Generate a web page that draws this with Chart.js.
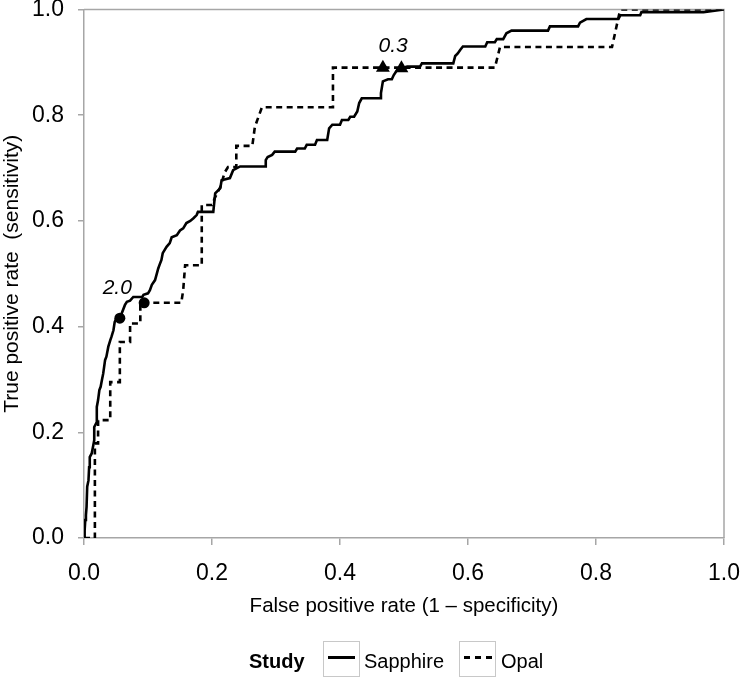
<!DOCTYPE html>
<html><head><meta charset="utf-8">
<script src="https://cdn.jsdelivr.net/npm/chart.js@4.4.1/dist/chart.umd.min.js"></script>
<style>
html,body{margin:0;padding:0;background:#fff;}
#wrap{position:relative;width:740px;height:679px;overflow:hidden;}
#c{position:absolute;left:0;top:0;}
.leg{position:absolute;font-family:"Liberation Sans",Arial,sans-serif;font-size:20px;color:#000;line-height:20px;white-space:nowrap;}
.box{position:absolute;border:1px solid #c8c8c8;width:37px;height:36px;box-sizing:border-box;background:#fff;}
.solid{position:absolute;left:4px;right:4px;top:14px;height:3px;background:#000;}
.dash{position:absolute;left:4px;right:3px;top:14px;height:3px;background:repeating-linear-gradient(90deg,#000 0 6px,transparent 6px 11px);}
</style></head>
<body>
<div id="wrap">
<canvas id="c" width="740" height="679"></canvas>
<div class="leg" style="left:249px;top:651px;font-weight:bold">Study</div>
<div class="box" style="left:323px;top:641px;"><div class="solid"></div></div>
<div class="leg" style="left:364px;top:651px;">Sapphire</div>
<div class="box" style="left:459px;top:641px;"><div class="dash"></div></div>
<div class="leg" style="left:501px;top:651px;">Opal</div>
</div>
<script>
// ---- data ----
const sapphireFPR = [0.000,0.001,0.002,0.003,0.004,0.005,0.007,0.008,0.009,0.012,
  0.014,0.016,0.016,0.019,0.020,0.022,0.024,0.026,0.028,0.030,
  0.033,0.035,0.038,0.041,0.043,0.046,0.048,0.051,0.056,0.064,
  0.067,0.072,0.077,0.091,0.093,0.100,0.103,0.106,0.111,0.114,
  0.116,0.119,0.121,0.123,0.129,0.134,0.137,0.145,0.150,0.155,
  0.160,0.166,0.171,0.176,0.178,0.202,0.205,0.213,0.215,0.228,
  0.233,0.244,0.283,0.284,0.287,0.294,0.298,0.330,0.333,0.345,
  0.348,0.361,0.364,0.380,0.383,0.388,0.400,0.403,0.413,0.416,
  0.422,0.427,0.430,0.434,0.463,0.464,0.467,0.475,0.481,0.484,
  0.489,0.496,0.505,0.525,0.528,0.577,0.580,0.584,0.588,0.592,
  0.627,0.630,0.642,0.645,0.655,0.660,0.668,0.725,0.728,0.772,
  0.775,0.785,0.835,0.838,0.869,0.871,0.968,1.000];
const sapphireTPR = [0.000,0.015,0.034,0.043,0.059,0.097,0.109,0.134,0.153,0.160,
  0.172,0.185,0.210,0.217,0.248,0.261,0.280,0.286,0.299,0.311,
  0.337,0.343,0.362,0.374,0.381,0.393,0.409,0.416,0.416,0.441,
  0.447,0.449,0.456,0.456,0.460,0.463,0.469,0.479,0.488,0.501,
  0.510,0.520,0.526,0.539,0.551,0.558,0.569,0.573,0.582,0.586,
  0.596,0.600,0.605,0.611,0.617,0.617,0.652,0.662,0.677,0.681,
  0.696,0.703,0.703,0.715,0.721,0.725,0.731,0.731,0.737,0.737,
  0.744,0.744,0.753,0.753,0.775,0.782,0.782,0.791,0.791,0.797,
  0.797,0.807,0.823,0.832,0.832,0.842,0.864,0.868,0.868,0.876,
  0.885,0.889,0.892,0.892,0.898,0.898,0.912,0.917,0.924,0.930,
  0.930,0.938,0.938,0.944,0.944,0.955,0.960,0.960,0.968,0.968,
  0.975,0.982,0.982,0.989,0.989,0.995,0.995,1.000];
const opalFPR = [0.000,0.017,0.017,0.022,0.022,0.041,0.041,0.056,0.056,0.072,
  0.072,0.088,0.088,0.094,0.152,0.155,0.158,0.184,0.184,0.200,
  0.205,0.213,0.220,0.225,0.238,0.238,0.263,0.267,0.278,0.389,
  0.389,0.467,0.642,0.650,0.825,0.836,0.839,1.000];
const opalTPR = [0.000,0.000,0.179,0.179,0.223,0.223,0.295,0.295,0.371,0.371,
  0.406,0.406,0.445,0.445,0.445,0.469,0.516,0.516,0.630,0.630,
  0.645,0.664,0.692,0.702,0.702,0.742,0.742,0.778,0.815,0.815,
  0.890,0.890,0.890,0.929,0.929,0.990,1.000,1.000];
// threshold markers: [Sapphire, Opal]
const dotFPR = [0.056, 0.094];      // threshold 2.0
const dotTPR = [0.416, 0.445];
const triFPR = [0.496, 0.467];      // threshold 0.3
const triTPR = [0.889, 0.890];
const thresholdLabels = ['2.0', '0.3'];
const thresholdLabelFPR = [0.052, 0.483];
const thresholdLabelTPR = [0.472, 0.930];
const tickValues = [0, 0.2, 0.4, 0.6, 0.8, 1.0];
const seriesNames = ['Sapphire', 'Opal'];

const pts = (xs, ys) => xs.map((x, i) => ({x: x, y: ys[i]}));
const FONT = '"Liberation Sans", Arial, sans-serif';
const AX = '#a6a6a6';

const frame = {
  id: 'frame',
  beforeDatasetsDraw(chart) {
    const a = chart.chartArea, ctx = chart.ctx;
    ctx.save();
    ctx.strokeStyle = AX; ctx.lineWidth = 1.5;
    ctx.beginPath();
    ctx.moveTo(a.left, a.top); ctx.lineTo(a.right, a.top); ctx.lineTo(a.right, a.bottom);
    ctx.stroke();
    ctx.restore();
  },
  afterDatasetsDraw(chart) {
    const ctx = chart.ctx, xs = chart.scales.x, ys = chart.scales.y;
    ctx.save();
    ctx.font = 'italic 21px ' + FONT;
    ctx.fillStyle = '#000'; ctx.textAlign = 'center'; ctx.textBaseline = 'middle';
    thresholdLabels.forEach((t, i) => {
      ctx.fillText(t, xs.getPixelForValue(thresholdLabelFPR[i]), ys.getPixelForValue(thresholdLabelTPR[i]));
    });
    ctx.restore();
  }
};

new Chart(document.getElementById('c'), {
  type: 'scatter',
  data: {
    datasets: [
      {label: seriesNames[0], data: pts(sapphireFPR, sapphireTPR), showLine: true, borderColor: '#000', borderWidth: 2.6, pointRadius: 0, tension: 0},
      {label: seriesNames[1], data: pts(opalFPR, opalTPR), showLine: true, borderColor: '#000', borderWidth: 2.6, borderDash: [6, 4.5], pointRadius: 0, tension: 0},
      {label: 'dots', data: pts(dotFPR, dotTPR), pointStyle: 'circle', pointRadius: 5.5, backgroundColor: '#000', borderColor: '#000', borderWidth: 0},
      {label: 'tri', data: pts(triFPR, triTPR), pointStyle: 'triangle', pointRadius: 8, backgroundColor: '#000', borderColor: '#000', borderWidth: 0}
    ]
  },
  options: {
    responsive: false,
    animation: false,
    events: [],
    layout: {padding: {left: 0, right: 16, top: 9.5, bottom: 57}},
    plugins: {legend: {display: false}, tooltip: {enabled: false}},
    scales: {
      x: {
        type: 'linear', min: 0, max: 1,
        afterBuildTicks: s => { s.ticks = tickValues.map(v => ({value: v})); },
        afterFit: s => { s.height = 84; s.paddingLeft = 0; s.paddingRight = 0; },
        ticks: {callback: v => v.toFixed(1), color: '#000', font: {family: FONT, size: 23}, padding: 15, maxRotation: 0},
        grid: {drawOnChartArea: false, drawTicks: true, tickLength: 7, color: AX, lineWidth: 1.5},
        border: {display: true, color: AX, width: 1.5},
        title: {display: true, text: 'False positive rate (1 – specificity)', color: '#000', font: {family: FONT, size: 20.5}, padding: {top: 0, bottom: 3}}
      },
      y: {
        type: 'linear', min: 0, max: 1,
        afterBuildTicks: s => { s.ticks = tickValues.map(v => ({value: v})); },
        afterFit: s => { s.width = 84; s.paddingTop = 0; s.paddingBottom = 0; },
        ticks: {callback: v => v.toFixed(1), color: '#000', font: {family: FONT, size: 23}, padding: 14},
        grid: {drawOnChartArea: false, drawTicks: true, tickLength: 6, color: AX, lineWidth: 1.5},
        border: {display: true, color: AX, width: 1.5},
        title: {display: true, text: 'True positive rate  (sensitivity)', color: '#000', font: {family: FONT, size: 21}, padding: {top: 0, bottom: 0}}
      }
    }
  },
  plugins: [frame]
});
</script>
</body></html>
